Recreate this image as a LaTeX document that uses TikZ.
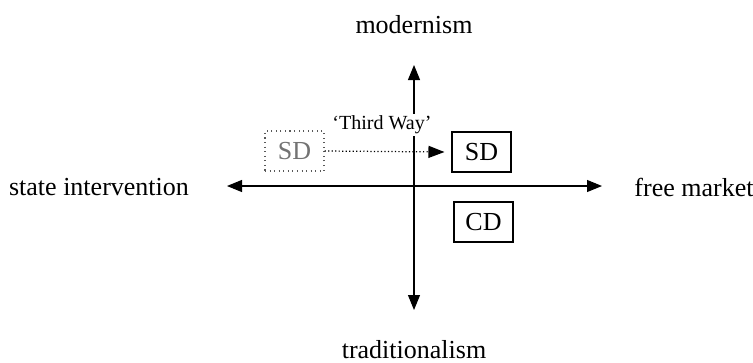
\documentclass[tikz,border=0pt]{standalone}
\usepackage{fontspec}
\setmainfont{Liberation Serif}
\usetikzlibrary{arrows.meta, positioning}

\begin{document}
\begin{tikzpicture}[x=0.02cm, y=-0.02cm,
  axlbl/.style={font=\fontsize{14.8}{18}\selectfont, inner sep=0pt},
  party/.style={rectangle, draw=black, line width=0.6pt, font=\fontsize{14.8}{18}\selectfont, minimum width=1.18cm, minimum height=0.8cm, inner sep=0pt},
  oldparty/.style={party, draw=gray!70!black, dotted, text=gray!90!black, line width=0.7pt},
  axis/.style={-{Triangle[length=0.3cm, width=0.24cm]}, line width=0.6pt},
  moveto/.style={-{Triangle[length=0.32cm, width=0.24cm]}, dash pattern=on 0.7pt off 1.3pt, line width=0.7pt},
  lbl/.style={font=\fontsize{11.4}{13}\selectfont, fill=white, inner sep=1pt}
]
  \useasboundingbox (0,0) rectangle (753,362);
  % axis labels
  \node[axlbl](mod) at (414,25) {modernism};
  \node[axlbl](trad) at (414,350) {traditionalism};
  \node[axlbl](state) at (99,187) {state intervention};
  \node[axlbl](free) at (694,187) {free market};
  % axes
  \coordinate (o) at (414,186);
  \coordinate (top) at (414,65);
  \coordinate (bot) at (414,310);
  \coordinate (lft) at (227,186);
  \coordinate (rgt) at (602,186);
  \draw[axis] (o) -- (top);
  \draw[axis] (o) -- (bot);
  \draw[axis] (o) -- (lft);
  \draw[axis] (o) -- (rgt);
  % parties
  \node[oldparty](oldsd) at (294.5,151) {SD};
  \node[party](sd) at (481.5,152) {SD};
  \node[party](cd) at (483.5,222) {CD};
  \node[lbl](tw) at (382,125) {‘Third Way’};
  \draw[moveto] (oldsd.east) -- ([xshift=-4]sd.west);
\end{tikzpicture}
\end{document}
